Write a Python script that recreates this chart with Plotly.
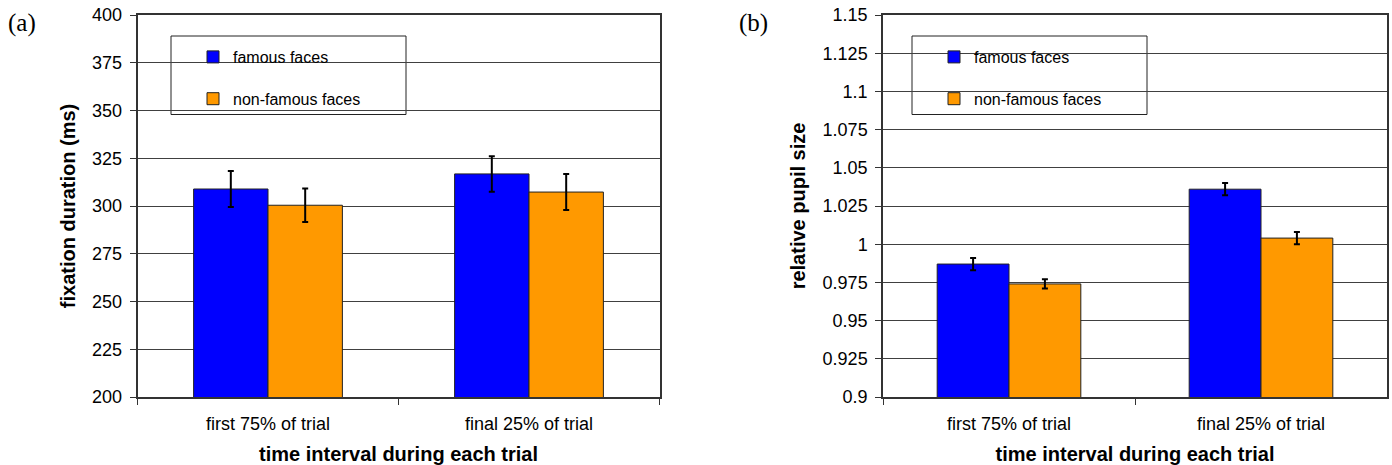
import plotly.graph_objects as go

categories = ["first 75% of trial", "final 25% of trial"]
series_names = ["famous faces", "non-famous faces"]

fix_famous = [308.9, 316.8]
fix_famous_err = [9.4, 9.3]
fix_nonfamous = [300.4, 307.3]
fix_nonfamous_err = [8.8, 9.4]

pupil_famous = [0.987, 1.036]
pupil_famous_err = [0.004, 0.004]
pupil_nonfamous = [0.974, 1.004]
pupil_nonfamous_err = [0.003, 0.004]

fix_ticks = [200, 225, 250, 275, 300, 325, 350, 375, 400]
pupil_ticks = [0.9, 0.925, 0.95, 0.975, 1.0, 1.025, 1.05, 1.075, 1.1, 1.125, 1.15]
pupil_ticktext = ["0.9", "0.925", "0.95", "0.975", "1", "1.025", "1.05", "1.075", "1.1", "1.125", "1.15"]

BLUE = "#0000FF"
ORANGE = "#FF9900"
FONT = "Liberation Sans, Arial, sans-serif"

W, H = 1392, 465

fig = go.Figure()


def add_bar(x, y, err, color, name, xa, ya, leg, group):
    fig.add_trace(go.Bar(
        x=x, y=y, name=name, xaxis=xa, yaxis=ya, legend=leg,
        legendgroup=group,
        marker=dict(color=color, line=dict(color="#222222", width=1)),
        error_y=dict(type="data", array=err, color="black", thickness=2, width=3),
    ))


add_bar(categories, fix_famous, fix_famous_err, BLUE, series_names[0], "x", "y", "legend", "a1")
add_bar(categories, fix_nonfamous, fix_nonfamous_err, ORANGE, series_names[1], "x", "y", "legend", "a2")
add_bar(categories, pupil_famous, pupil_famous_err, BLUE, series_names[0], "x2", "y2", "legend2", "b1")
add_bar(categories, pupil_nonfamous, pupil_nonfamous_err, ORANGE, series_names[1], "x2", "y2", "legend2", "b2")


def px(x):
    return x / W


def py(y):
    return 1 - y / H


# pixel geometry (window coordinates)
xa_dom = [px(137.5), px(659.5)]
xb_dom = [px(883.0), px(1387.0)]
y_dom = [py(397.0), py(15.0)]

axis_common = dict(
    showline=True, linecolor="#333333", linewidth=1.5, mirror=True,
    ticks="outside", ticklen=6, tickcolor="#333333", tickwidth=1,
    tickfont=dict(family=FONT, size=18, color="black"),
    ticklabeloverflow="allow",
    automargin=False,
)

fig.update_layout(
    width=W, height=H,
    margin=dict(l=0, r=0, t=0, b=0, autoexpand=False),
    paper_bgcolor="white", plot_bgcolor="white",
    barmode="group", bargap=0.43, bargroupgap=0,
    font=dict(family=FONT, color="black"),
    xaxis=dict(domain=xa_dom, anchor="y", type="category", tickson="boundaries",
               showgrid=False, ticklabelstandoff=10,
               title=dict(text="<b>time interval during each trial</b>",
                          font=dict(family=FONT, size=20), standoff=15),
               **axis_common),
    yaxis=dict(domain=y_dom, anchor="x", range=[200, 400], tickvals=fix_ticks,
               showgrid=True, gridcolor="#404040", gridwidth=1, ticklabelstandoff=4,
               title=dict(text="<b>fixation duration (ms)</b>",
                          font=dict(family=FONT, size=20), standoff=11),
               **axis_common),
    xaxis2=dict(domain=xb_dom, anchor="y2", type="category", tickson="boundaries",
                showgrid=False, ticklabelstandoff=10,
                title=dict(text="<b>time interval during each trial</b>",
                           font=dict(family=FONT, size=20), standoff=15),
                **axis_common),
    yaxis2=dict(domain=y_dom, anchor="x2", range=[0.9, 1.15], tickvals=pupil_ticks,
                ticktext=pupil_ticktext,
                showgrid=True, gridcolor="#404040", gridwidth=1, ticklabelstandoff=4,
                title=dict(text="<b>relative pupil size</b>",
                           font=dict(family=FONT, size=20), standoff=12),
                **axis_common),
    legend=dict(x=px(193), xanchor="left", y=py(40), yanchor="top",
                bgcolor="rgba(0,0,0,0)", borderwidth=0,
                font=dict(family=FONT, size=16), tracegroupgap=18,
                traceorder="grouped"),
    legend2=dict(x=px(934), xanchor="left", y=py(40), yanchor="top",
                 bgcolor="rgba(0,0,0,0)", borderwidth=0,
                 font=dict(family=FONT, size=16), tracegroupgap=18,
                 traceorder="grouped"),
    showlegend=True,
)

# legend frames
fig.add_shape(type="rect", xref="paper", yref="paper",
              x0=px(171), x1=px(406), y0=py(114.5), y1=py(36),
              line=dict(color="#222222", width=1), fillcolor="white", layer="between")
fig.add_shape(type="rect", xref="paper", yref="paper",
              x0=px(912), x1=px(1147), y0=py(114.5), y1=py(36),
              line=dict(color="#222222", width=1), fillcolor="white", layer="between")

# panel labels
fig.add_annotation(text="(a)", xref="paper", yref="paper", x=px(6), y=py(23),
                   xanchor="left", yanchor="middle", showarrow=False,
                   font=dict(family="Liberation Serif, Times New Roman, serif", size=25))
fig.add_annotation(text="(b)", xref="paper", yref="paper", x=px(737), y=py(23),
                   xanchor="left", yanchor="middle", showarrow=False,
                   font=dict(family="Liberation Serif, Times New Roman, serif", size=25))

# remove the browser's default 8px body margin so the figure fills the window
fig.write_html("out.html", config={"displayModeBar": False},
               post_script="document.body.style.margin='0';")
